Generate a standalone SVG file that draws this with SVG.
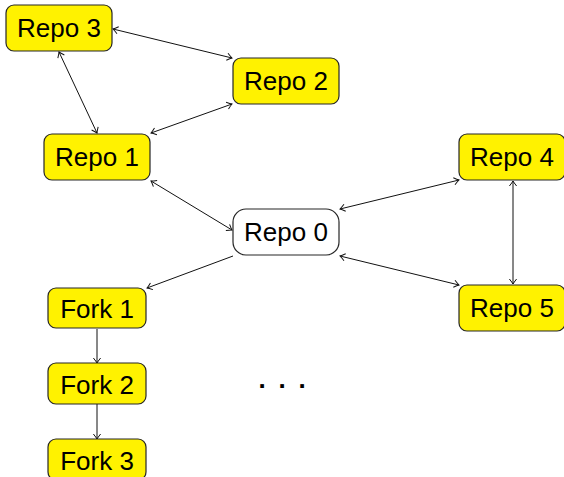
<svg xmlns="http://www.w3.org/2000/svg" width="564" height="477" viewBox="0 0 564 477">
<style>
.box{fill:#fff200;stroke:#262626;stroke-width:1.2}
.white{fill:#ffffff}
.lbl{font-family:"Liberation Sans",Arial,sans-serif;font-size:26px;fill:#000;text-anchor:middle}
.edge{stroke:#111;stroke-width:1;fill:none}
.bi{marker-start:url(#ah);marker-end:url(#ah)}
.uni{marker-end:url(#ah)}
</style>
<defs>
<marker id="ah" markerUnits="userSpaceOnUse" markerWidth="12" markerHeight="12" viewBox="-6 -6 12 12" refX="0" refY="0" orient="auto-start-reverse">
<path d="M-5,-3.6 Q-1.5,-0.8 0,0 Q-1.5,0.8 -5,3.6" fill="none" stroke="#111" stroke-width="1"/>
</marker>
</defs>
<rect width="564" height="477" fill="#ffffff"/>
<g id="connectors">
<line class="edge bi" x1="113" y1="29" x2="232" y2="58"/>
<line class="edge bi" x1="59" y1="52" x2="97" y2="133"/>
<line class="edge bi" x1="232" y1="104" x2="151" y2="133"/>
<line class="edge bi" x1="151" y1="181" x2="232" y2="230"/>
<line class="edge uni" x1="233" y1="256" x2="147" y2="288"/>
<line class="edge bi" x1="340" y1="209" x2="459" y2="180"/>
<line class="edge bi" x1="340" y1="256" x2="459" y2="285"/>
<line class="edge bi" x1="513" y1="181" x2="513" y2="284"/>
<line class="edge uni" x1="97" y1="329" x2="97" y2="363"/>
<line class="edge uni" x1="97" y1="404" x2="97" y2="439"/>
</g>
<g id="repo3"><rect class="box" x="6" y="5" width="106" height="46" rx="8"/><text class="lbl" x="59" y="37">Repo 3</text></g>
<g id="repo2"><rect class="box" x="233" y="58" width="106" height="46" rx="8"/><text class="lbl" x="286" y="90">Repo 2</text></g>
<g id="repo1"><rect class="box" x="44" y="134" width="106" height="46" rx="8"/><text class="lbl" x="97" y="166">Repo 1</text></g>
<g id="repo0"><rect class="box white" x="233" y="209" width="106" height="46" rx="13"/><text class="lbl" x="286" y="241">Repo 0</text></g>
<g id="repo4"><rect class="box" x="459" y="134" width="106" height="46" rx="8"/><text class="lbl" x="512" y="166">Repo 4</text></g>
<g id="repo5"><rect class="box" x="459" y="285" width="106" height="46" rx="8"/><text class="lbl" x="512" y="317">Repo 5</text></g>
<g id="fork1"><rect class="box" x="48" y="288" width="98" height="40" rx="8"/><text class="lbl" x="97" y="318">Fork 1</text></g>
<g id="fork2"><rect class="box" x="48" y="363" width="98" height="41" rx="8"/><text class="lbl" x="97" y="394">Fork 2</text></g>
<g id="fork3"><rect class="box" x="48" y="439" width="98" height="41" rx="8"/><text class="lbl" x="97" y="470">Fork 3</text></g>
<text x="258.5 278.5 298.5" y="388" style="font-family:'Liberation Sans',Arial,sans-serif;font-size:26px;font-weight:bold;fill:#000">...</text>
</svg>
